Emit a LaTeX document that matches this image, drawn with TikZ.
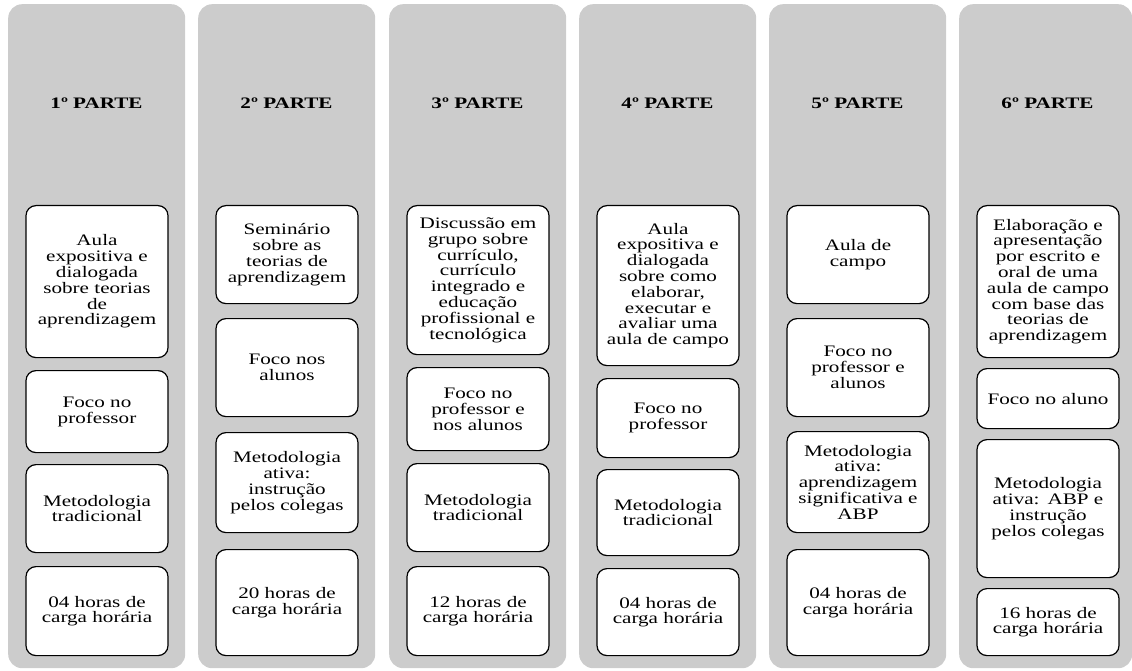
\documentclass[tikz,border=0pt]{standalone}
\usepackage{fontspec}
\setmainfont[FakeStretch=1.32]{Liberation Serif}
\usepackage{tikz}
\usetikzlibrary{positioning}

\definecolor{colgray}{HTML}{CCCCCC}

\begin{document}
\begin{tikzpicture}[
    x=1pt, y=-1pt,
    column/.style={rectangle, fill=colgray, rounded corners=14pt, minimum width=177pt, minimum height=664pt, anchor=north west, inner sep=0pt},
    title/.style={font=\bfseries\fontsize{16}{16}\selectfont},
    box/.style={rectangle, rounded corners=10pt, draw, line width=1.2pt, fill=white, text width=134pt, inner xsep=4pt, inner ysep=0pt, align=center, anchor=north, font=\fontsize{16}{15.8}\selectfont}
]
\useasboundingbox (0,0) rectangle (1132,671);
\clip (0,0) rectangle (1132,671);

% Columns
\node[column] (col1) at (8,4) {};
\node[column] (col2) at (198,4) {};
\node[column] (col3) at (389,4) {};
\node[column] (col4) at (579,4) {};
\node[column] (col5) at (769,4) {};
\node[column, minimum width=173pt] (col6) at (959,4) {};

% Titles
\node[title] (t1) at (96.5,103) {1º PARTE};
\node[title] (t2) at (286.5,103) {2º PARTE};
\node[title] (t3) at (477.5,103) {3º PARTE};
\node[title] (t4) at (667.5,103) {4º PARTE};
\node[title] (t5) at (857.5,103) {5º PARTE};
\node[title] (t6) at (1047.5,103) {6º PARTE};

% 1st part
\node[box, minimum height=152pt] (a1) at (97,205) {Aula\\expositiva e\\dialogada\\sobre teorias\\de\\aprendizagem};
\node[box, minimum height=82pt] (a2) at (97,370) {Foco no\\professor};
\node[box, minimum height=88pt] (a3) at (97,464) {Metodologia\\tradicional};
\node[box, minimum height=89pt] (a4) at (97,566) {04 horas de\\carga horária};

% 2nd part
\node[box, minimum height=98pt] (b1) at (287,205) {Seminário\\sobre as\\teorias de\\aprendizagem};
\node[box, minimum height=98pt] (b2) at (287,318) {Foco nos\\alunos};
\node[box, minimum height=100pt] (b3) at (287,432) {Metodologia\\ativa:\\instrução\\pelos colegas};
\node[box, minimum height=106pt] (b4) at (287,549) {20 horas de\\carga horária};

% 3rd part
\node[box, minimum height=149pt] (c1) at (478,205) {Discussão em\\grupo sobre\\currículo,\\currículo\\integrado e\\educação\\profissional e\\tecnológica};
\node[box, minimum height=83pt] (c2) at (478,367) {Foco no\\professor e\\nos alunos};
\node[box, minimum height=88pt] (c3) at (478,463) {Metodologia\\tradicional};
\node[box, minimum height=89pt] (c4) at (478,566) {12 horas de\\carga horária};

% 4th part
\node[box, minimum height=160pt] (d1) at (668,205) {Aula\\expositiva e\\dialogada\\sobre como\\elaborar,\\executar e\\avaliar uma\\aula de campo};
\node[box, minimum height=79pt] (d2) at (668,378) {Foco no\\professor};
\node[box, minimum height=86pt] (d3) at (668,469) {Metodologia\\tradicional};
\node[box, minimum height=87pt] (d4) at (668,568) {04 horas de\\carga horária};

% 5th part
\node[box, minimum height=98pt] (e1) at (858,205) {Aula de\\campo};
\node[box, minimum height=98pt] (e2) at (858,318) {Foco no\\professor e\\alunos};
\node[box, minimum height=101pt] (e3) at (858,431) {Metodologia\\ativa:\\aprendizagem\\significativa e\\ABP};
\node[box, minimum height=106pt] (e4) at (858,549) {04 horas de\\carga horária};

% 6th part
\node[box, minimum height=152pt] (f1) at (1048,205) {Elaboração e\\apresentação\\por escrito e\\oral de uma\\aula de campo\\com base das\\teorias de\\aprendizagem};
\node[box, minimum height=60pt] (f2) at (1048,368) {Foco no aluno};
\node[box, minimum height=138pt] (f3) at (1048,439) {Metodologia\\ativa: ABP e\\instrução\\pelos colegas\\[14pt]};
\node[box, minimum height=67pt] (f4) at (1048,588) {16 horas de\\carga horária};

\end{tikzpicture}
\end{document}
